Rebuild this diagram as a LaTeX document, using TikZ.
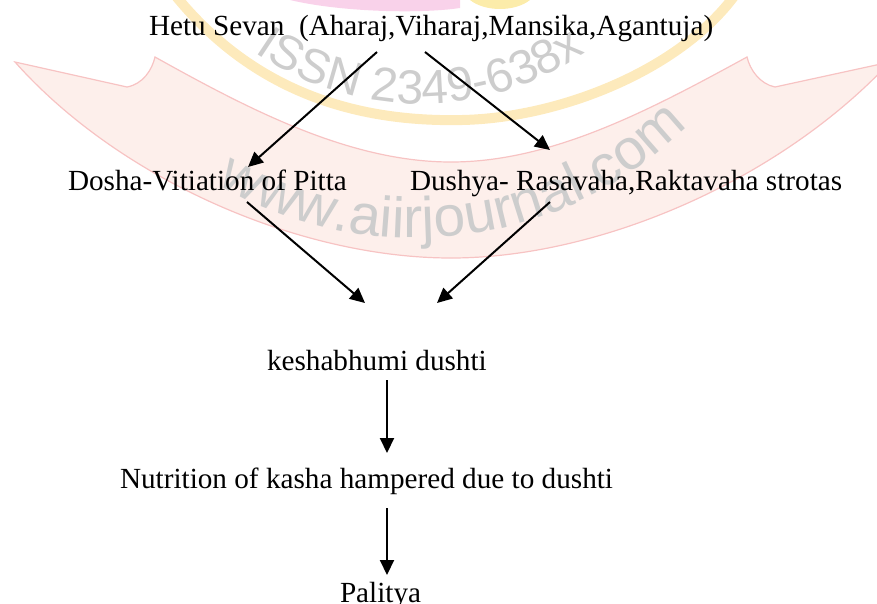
\documentclass[tikz,border=0pt]{standalone}
\usepackage{fontspec}
\setmainfont{Liberation Serif}
\newfontfamily\wmfont{Liberation Sans}
\usetikzlibrary{arrows.meta,decorations.text}
\definecolor{ribfill}{RGB}{253,239,235}
\definecolor{ribline}{RGB}{247,195,195}
\definecolor{wmyellow}{RGB}{253,234,188}
\definecolor{wmsun}{RGB}{252,236,170}
\definecolor{wmpink}{RGB}{249,210,234}
\definecolor{wmgray}{RGB}{205,205,205}
\newcommand\wmissn{\wmfont\fontsize{48pt}{48pt}\selectfont\color{wmgray}}
\newcommand\wmweb{\wmfont\fontsize{57pt}{57pt}\selectfont\color{wmgray}}
\begin{document}
\begin{tikzpicture}[x=1pt,y=1pt,
  lbl/.style={inner sep=0pt,outer sep=0pt,anchor=base west,font=\fontsize{29.2pt}{35pt}\selectfont},
  conn/.style={line width=2pt,-{Triangle[length=15pt,width=14pt]}}]
\useasboundingbox (0,0) rectangle (877,-603);
\begin{scope}
\clip (0,0) rectangle (877,-603);
% ribbon
\path[fill=ribfill,draw=ribline,line width=1.2pt]
  (15,-62) -- (127,-87) .. controls (143,-84) and (152,-70) .. (155,-57)
  .. controls (250,-110) and (350,-162) .. (451,-162)
  .. controls (552,-162) and (650,-110) .. (747,-57)
  .. controls (750,-70) and (760,-84) .. (775,-87) -- (890,-62)
  .. controls (780,-180) and (600,-258) .. (451,-258)
  .. controls (300,-258) and (120,-180) .. cycle;
% yellow arc
\draw[wmyellow,line width=10pt]
  (175,5) .. controls (260,-100) and (370,-122) .. (462,-120)
  .. controls (560,-118) and (680,-70) .. (735,5);
% top blobs
\fill[wmpink] (290,0) .. controls (340,-12) and (420,-14) .. (460,-8) -- (460,0) -- cycle;
\fill[wmsun] (470,0) .. controls (485,-12) and (515,-12) .. (530,0) -- cycle;
% watermark texts
\path[decorate,decoration={text along path,text={|\wmissn|ISSN 2349-638x},text align=center}]
  (420,186) ++(235:290pt) arc[start angle=235,end angle=305,radius=290pt];
\path[decorate,decoration={text along path,text={|\wmweb|www.aiirjournal.com},text align=center}]
  (415,150) ++(239:388pt) arc[start angle=239,end angle=315,radius=388pt];
\end{scope}
% diagram
\node[lbl] (hetu) at (149,-35) {Hetu Sevan~ (Aharaj,Viharaj,Mansika,Agantuja)};
\node[lbl] (dosha) at (68,-190) {Dosha-Vitiation of Pitta};
\node[lbl] (dushya) at (410,-190) {Dushya- Rasavaha,Raktavaha strotas};
\node[lbl] (kesha) at (267,-370) {keshabhumi dushti};
\node[lbl] (nutr) at (120,-488) {Nutrition of kasha hampered due to dushti};
\node[lbl] (pal) at (340,-602) {Palitya};
\draw[conn] ([xshift=228pt,yshift=-17pt]hetu.base west) -- ([xshift=180pt,yshift=23pt]dosha.base west);
\draw[conn] ([xshift=276pt,yshift=-17pt]hetu.base west) -- ([xshift=140pt,yshift=40pt]dushya.base west);
\draw[conn] ([xshift=179pt,yshift=-12pt]dosha.base west) -- ([xshift=98pt,yshift=67pt]kesha.base west);
\draw[conn] ([xshift=140pt,yshift=-12pt]dushya.base west) -- ([xshift=170pt,yshift=67pt]kesha.base west);
\draw[conn] ([xshift=120pt,yshift=-10pt]kesha.base west) -- ([xshift=267pt,yshift=35pt]nutr.base west);
\draw[conn] ([xshift=267pt,yshift=-20pt]nutr.base west) -- ([xshift=47pt,yshift=27pt]pal.base west);
\end{tikzpicture}
\end{document}
